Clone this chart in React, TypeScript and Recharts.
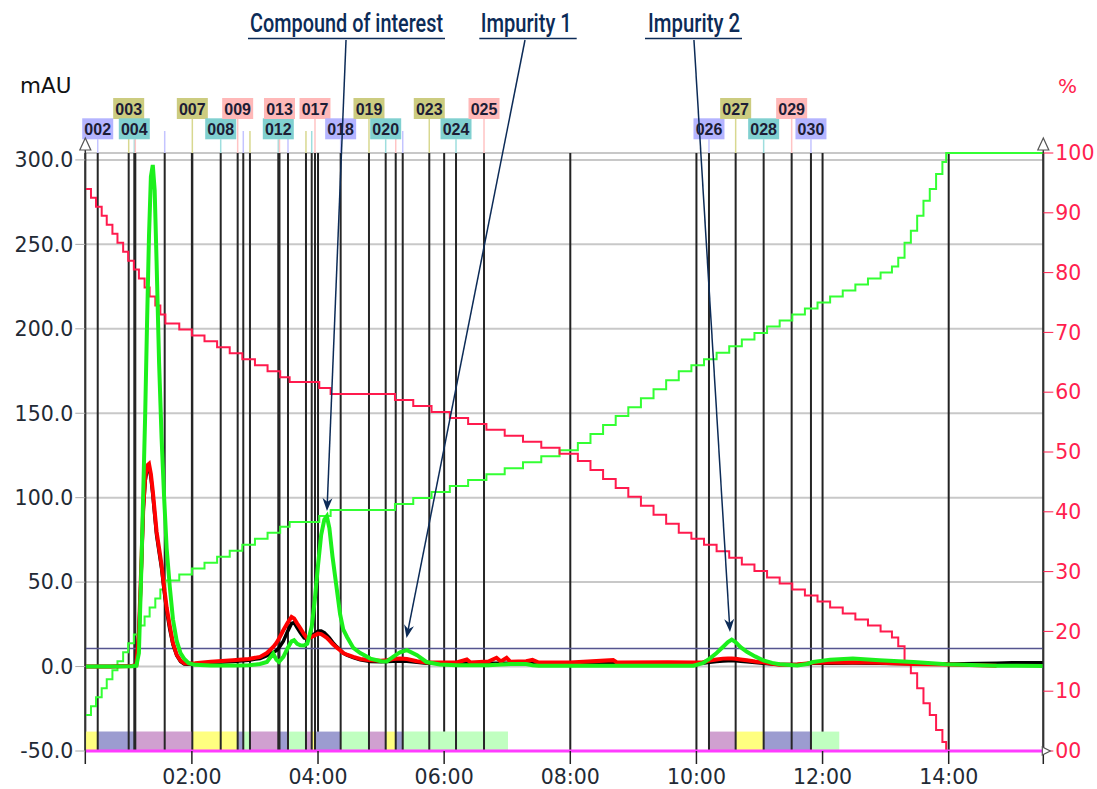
import React from 'react'
import {
  ComposedChart, Line, XAxis, YAxis, CartesianGrid,
  ReferenceLine, ReferenceArea, ReferenceDot,
} from 'recharts'

const W = 1097
const H = 789
const T_MIN = 0.31
const T_MAX = 15.5
const MAU_MAX = 304.1
const NAVY = '#0c2b57'
const PCT_RED = '#ff1f4f'

// UV traces (mAU) sampled at traceTime (min)
const traceTime = [
  0.31, 0.70, 1.05, 1.12, 1.16, 1.20, 1.23, 1.26, 1.29, 1.32,
  1.35, 1.38, 1.41, 1.44, 1.48, 1.52, 1.56, 1.60, 1.65, 1.70,
  1.76, 1.82, 1.88, 1.95, 2.05, 2.30, 2.65, 2.90, 3.08, 3.19,
  3.29, 3.34, 3.38, 3.45, 3.52, 3.58, 3.62, 3.67, 3.72, 3.78,
  3.83, 3.90, 3.95, 4.00, 4.05, 4.10, 4.14, 4.18, 4.23, 4.29,
  4.35, 4.40, 4.46, 4.56, 4.67, 4.83, 5.00, 5.09, 5.19, 5.30,
  5.41, 5.57, 5.72, 5.93, 6.20, 6.36, 6.42, 6.70, 6.83, 6.90,
  6.99, 7.05, 7.30, 7.40, 7.50, 8.00, 8.68, 8.74, 9.55, 9.95,
  10.10, 10.21, 10.32, 10.42, 10.50, 10.56, 10.62, 10.70, 10.80, 10.93,
  11.06, 11.20, 11.32, 11.60, 11.75, 11.85, 12.12, 12.48, 12.90, 13.44,
  13.96, 14.50, 14.76, 15.00, 15.50,
]
const uvGreen = [
  0, 0, 0.2, 0.5, 8, 60, 105, 150, 205, 255,
  290, 297, 282, 240, 180, 135, 100, 70, 47, 28,
  15, 8, 4.5, 2, 1, 0.6, 0.6, 0.8, 1.5, 2.7,
  7.7, 4, 2.7, 5.7, 11, 15, 15.6, 13.5, 12.6, 12.5,
  13.6, 23.5, 40, 60, 78, 87, 89, 82, 65, 48,
  31, 22, 17.5, 11, 8, 4.7, 3.2, 3, 5.7, 8.5,
  9.7, 6.7, 2.7, 1.2, 0.8, 0.8, 0.8, 0.8, 1.0, 1.2,
  1.4, 1.5, 1.5, 0.8, 0.5, 0.5, 0.5, 0.5, 0.5, 0.5,
  2, 4.7, 8, 11.6, 14.5, 16, 14.5, 11.5, 8.7, 6,
  3.7, 2.2, 1.4, 0.6, 1.5, 2.7, 4.1, 4.7, 3.7, 2.7,
  1.4, 0.8, 0.5, 0.5, 0.3,
]
const uvRed = [
  0, 0, 0.3, 1, 20, 62, 95, 112, 119, 120,
  114, 104, 92, 80, 70, 60, 47, 35, 24, 14,
  7, 3.5, 2, 1.8, 2, 2.8, 3.7, 4.5, 5.7, 8,
  11.6, 14, 16.5, 21.5, 26, 29.4, 28.5, 25.5, 22.7, 19,
  16.6, 17.5, 18.5, 19.5, 19.2, 18, 17, 15.5, 13.5, 11.5,
  9.7, 8, 7, 5.7, 4.5, 3.7, 3.5, 3.8, 4.5, 4.7,
  4.5, 3.2, 2.4, 2.4, 2.4, 4.2, 2.4, 3.0, 5.2, 3.0,
  5.2, 2.8, 3.2, 4.0, 2.4, 2.4, 3.8, 2.4, 2.6, 2.4,
  2.6, 3.5, 4.2, 4.7, 4.8, 4.8, 4.6, 4.2, 3.7, 3.0,
  2.5, 1.6, 1.1, 1.2, 1.8, 2.2, 2.4, 2.5, 2.2, 1.5,
  1.2, 0.8, 0.5, null, null,
]
const uvBlack = [
  0, 0, 0.3, 1, 19, 60, 93, 110, 117, 118,
  112, 102, 90, 78, 68, 58, 45, 33, 22, 13,
  6.5, 3, 1.5, 1.3, 1.5, 2.2, 3, 3.8, 4.8, 6.5,
  8.5, 9.5, 11, 15, 21, 25.5, 26, 23, 20, 17,
  16.5, 18, 19.5, 21, 21, 20, 18.5, 17, 14.5, 12,
  10, 8, 6.8, 5.3, 4, 3, 2.8, 3, 3.2, 3.3,
  3.2, 2.5, 2, 1.9, 1.9, 2, 1.9, 1.9, 2, 2,
  2, 2, 2, 2, 1.9, 1.9, 1.9, 1.9, 1.9, 1.9,
  2, 2.5, 3, 3.3, 3.5, 3.5, 3.4, 3.2, 2.8, 2.4,
  2, 1.5, 1.2, 1.2, 1.6, 2, 2, 2.1, 2, 1.6,
  1.5, 1.8, 2, 2.2, 2.2,
]

// solvent gradient (%), step changes at gradTime
const gradTime = [
  0.31, 0.40, 0.48, 0.57, 0.65, 0.74, 0.82, 0.91, 0.99, 1.08,
  1.16, 1.25, 1.33, 1.42, 1.50, 1.58, 1.80, 2.00, 2.20, 2.40,
  2.60, 2.80, 3.00, 3.20, 3.40, 3.55, 4.02, 4.20, 5.22, 5.51,
  5.80, 6.09, 6.38, 6.67, 6.96, 7.25, 7.54, 7.83, 8.12, 8.32,
  8.52, 8.72, 8.92, 9.12, 9.32, 9.52, 9.72, 9.92, 10.12, 10.32,
  10.52, 10.72, 10.92, 11.12, 11.32, 11.52, 11.72, 11.92, 12.12, 12.32,
  12.52, 12.72, 12.92, 13.10, 13.20, 13.30, 13.40, 13.50, 13.60, 13.70,
  13.80, 13.90, 13.96, 15.50,
]
const solventB = [
  6, 7.5, 9, 10.5, 12, 13.5, 15, 16.5, 18, 19.5,
  21, 22.5, 24, 25.5, 27, 28.5, 29.5, 30.5, 31.5, 32.5,
  33.5, 34.5, 35.5, 36.5, 37.5, 38.3, 39.3, 40.3, 41.3, 42.3,
  43.3, 44.3, 45.3, 46.3, 47.3, 48.3, 49.3, 50.3, 51.5, 53,
  54.5, 56, 57.5, 59, 60.5, 62, 63.5, 64.5, 65.5, 66.6,
  67.7, 68.8, 69.9, 71, 72, 73, 74, 75, 76, 77,
  78, 79, 80, 81, 82.5, 85, 87, 89.5, 92, 94,
  96.5, 98.5, 100, 100,
]
const solventA = [
  94, 92.5, 91, 89.5, 88, 86.5, 85, 83.5, 82, 80.5,
  79, 77.5, 76, 74.5, 73, 71.5, 70.5, 69.5, 68.5, 67.5,
  66.5, 65.5, 64.5, 63.5, 62.5, 61.7, 60.7, 59.7, 58.7, 57.7,
  56.7, 55.7, 54.7, 53.7, 52.7, 51.7, 50.7, 49.7, 48.5, 47,
  45.5, 44, 42.5, 41, 39.5, 38, 36.5, 35.5, 34.5, 33.4,
  32.3, 31.2, 30.1, 29, 28, 27, 26, 25, 24, 23,
  22, 21, 20, 19, 17.5, 15, 13, 10.5, 8, 6,
  3.5, 1.5, 0, null,
]

// collected fractions: number and start time (min)
const fractionNo = [
  2, 3, 4, 5, 6, 7, 8, 9, 10, 11, 12, 13, 14, 15, 16, 17, 18, 19, 20,
  21, 22, 23, 24, 25, 26, 27, 28, 29, 30,
]
const fractionStart = [
  0.507, 0.998, 1.087, 1.103, 1.569, 2.007, 2.457, 2.726, 2.815, 2.921,
  3.370, 3.389, 3.524, 3.809, 3.900, 3.952, 4.359, 4.808, 5.073, 5.232,
  5.343, 5.764, 6.188, 6.632, 10.199, 10.622, 11.066, 11.510, 11.816,
]
const fractionLabelled = [2, 3, 4, 7, 8, 9, 12, 13, 17, 18, 19, 20, 23, 24, 25, 26, 27, 28, 29, 30]

// rack position bands along the bottom
const bandStart = [
  0.31, 0.507, 1.087, 2.007, 2.726, 2.815, 2.921, 3.389, 3.524, 3.809, 3.900,
  3.952, 4.359, 4.808, 5.073, 5.232, 5.343, 10.199, 10.622, 11.066, 11.816,
]
const bandEnd = [
  0.507, 1.087, 2.007, 2.726, 2.815, 2.921, 3.389, 3.524, 3.809, 3.900, 3.952,
  4.359, 4.808, 5.073, 5.232, 5.343, 7.012, 10.622, 11.066, 11.816, 12.265,
]
const bandKind = [
  'y', 'b', 'm', 'y', 'b', 'g', 'm', 'b', 'g', 'm', 'y',
  'b', 'g', 'm', 'y', 'b', 'g', 'm', 'y', 'b', 'g',
]

const timeTicks = [T_MIN, 2, 4, 6, 8, 10, 12, 14, T_MAX]
const mauTicks = [-50, 0, 50, 100, 150, 200, 250, 300]
const pctTicks = [0, 10, 20, 30, 40, 50, 60, 70, 80, 90, 100]
const threshold = 10.7

const calloutNames = ['Compound of interest', 'Impurity 1', 'Impurity 2']
const calloutPeak = [{ x: 4.142, y: 92.1 }, { x: 5.403, y: 16.9 }, { x: 10.532, y: 20.5 }]
const calloutFoot = [{ x: 4.444, y: 371 }, { x: 7.282, y: 371 }, { x: 9.961, y: 371 }]
// label layout in page pixels: text left, text width, underline from/to
const calloutBox = [[250, 193, 248, 445], [480.7, 91, 479.3, 576.7], [648, 92, 645, 742]]

const traceData = traceTime.map((t, i) => ({ t, k: uvBlack[i], r: uvRed[i], g: uvGreen[i] }))
const gradData = gradTime.map((t, i) => ({ t, a: solventA[i], b: solventB[i] }))

const BAND_FILL: Record<string, string> = { y: '#ffff80', b: '#9c9cd0', m: '#d0a0d0', g: '#c0ffc0' }
const TAG_FILL = ['#80d0d0', '#ffb8b8', '#b4b4ff', '#cccc80']
const TAG_TICK = ['#9edede', '#ffc4c4', '#c4c4ff', '#d8d890']
const AXIS_FONT = 'DejaVu Sans'

const fmtTime = (v: number) =>
  v < 1 || v > 15 ? '' : `${String(Math.round(v)).padStart(2, '0')}:00`

const boxTopFor = (n: number, top: number) => (n % 2 === 1 ? top - 55 : top - 34.7)

// pass 1: black fraction line + coloured stub above the plot
function fractionLine(n: number) {
  return (p: any) => {
    const x = p.x1
    const top = Math.min(p.y1, p.y2)
    const bot = Math.max(p.y1, p.y2)
    const shown = fractionLabelled.includes(n)
    const tickTop = shown ? boxTopFor(n, top) + 21 : top - 22
    return (
      <g>
        <line x1={x} y1={tickTop} x2={x} y2={top} stroke={TAG_TICK[n % 4]} strokeWidth={1.5} />
        <line x1={x} y1={top} x2={x} y2={bot} stroke="#262626" strokeWidth={2} />
      </g>
    )
  }
}

// pass 2: number tag
function fractionTag(n: number) {
  return (p: any) => {
    if (!fractionLabelled.includes(n)) return <g />
    const x = p.x1
    const top = Math.min(p.y1, p.y2)
    const boxTop = boxTopFor(n, top)
    return (
      <g>
        <rect x={x - 15.5} y={boxTop} width={31} height={21} fill={TAG_FILL[n % 4]} />
        <text x={x} y={boxTop + 17} textAnchor="middle" fontFamily="Liberation Sans, Arial"
          fontWeight="bold" fontSize={16} fill="#1d1d35">
          {String(n).padStart(3, '0')}
        </text>
      </g>
    )
  }
}

const arrowShape = (p: any) => {
  const { x1, y1, x2, y2 } = p
  const ang = Math.atan2(y2 - y1, x2 - x1)
  const cs = Math.cos(ang), sn = Math.sin(ang)
  const bx = x2 - 13 * cs, by = y2 - 13 * sn
  const nx = -sn * 5, ny = cs * 5
  return (
    <g>
      <line x1={x1} y1={y1} x2={bx + 4 * cs} y2={by + 4 * sn} stroke={NAVY} strokeWidth={1.5} />
      <polygon
        points={`${x2},${y2} ${bx + nx},${by + ny} ${bx + 4 * cs},${by + 4 * sn} ${bx - nx},${by - ny}`}
        fill={NAVY}
      />
    </g>
  )
}

const upTriangle = (p: any) => (
  <g>
    <line x1={p.cx} y1={p.cy - 3} x2={p.cx} y2={p.cy} stroke="#333" strokeWidth={1.5} />
    <polygon points={`${p.cx},${p.cy - 15} ${p.cx - 5.5},${p.cy - 3} ${p.cx + 5.5},${p.cy - 3}`}
      fill="#fff" stroke="#555" strokeWidth={1.2} />
  </g>
)
const rightTriangle = (p: any) => (
  <polygon points={`${p.cx - 1},${p.cy - 4} ${p.cx - 1},${p.cy + 4} ${p.cx + 7},${p.cy}`}
    fill="#fff" stroke="#555" strokeWidth={1.2} />
)

export default function App() {
  const sx = 0.8
  return (
    <div style={{ position: 'absolute', left: 0, top: 0, width: W, height: H, background: '#fff' }}>
      <ComposedChart width={W} height={H} data={traceData}
        margin={{ top: 153, right: 0, bottom: 0, left: 0 }}>
        <XAxis dataKey="t" type="number" domain={[T_MIN, T_MAX]} ticks={timeTicks} interval={0}
          tickFormatter={fmtTime} height={38} axisLine={false}
          tickSize={13} tickMargin={5} tickLine={{ stroke: '#222', strokeWidth: 1.5 }}
          tick={{ fontFamily: AXIS_FONT, fontSize: 20.5, fill: '#222a35' }} />
        <YAxis yAxisId="left" domain={[-50, MAU_MAX]} ticks={mauTicks} interval={0}
          width={85.3} tickSize={10} tickMargin={2}
          tickFormatter={(v: number) => v.toFixed(1)}
          axisLine={{ stroke: '#333', strokeWidth: 1.5 }} tickLine={{ stroke: '#aaa' }}
          tick={{ fontFamily: AXIS_FONT, fontSize: 20.5, fill: '#222a35' }} />
        <YAxis yAxisId="right" orientation="right" domain={[0, 100]} ticks={pctTicks} interval={0}
          width={53.7} tickSize={10} tickMargin={2}
          tickFormatter={(v: number) => (v === 0 ? '00' : String(v))}
          axisLine={{ stroke: '#333', strokeWidth: 1.5 }} tickLine={{ stroke: PCT_RED }}
          tick={{ fontFamily: AXIS_FONT, fontSize: 20.5, fill: PCT_RED }} />

        <CartesianGrid yAxisId="left" vertical={false} stroke="#c8c8c8" strokeWidth={2} />
        <CartesianGrid yAxisId="left" horizontal={false} stroke="#222" strokeWidth={2} />

        {bandStart.map((s, i) => (
          <ReferenceArea key={`band-${i}`} yAxisId="left" x1={s} x2={bandEnd[i]} y1={-50} y2={-38.5}
            fill={BAND_FILL[bandKind[i]]} fillOpacity={1} stroke="none" ifOverflow="visible" />
        ))}

        {fractionNo.map((n, i) => (
          <ReferenceLine key={`frac-${n}`} yAxisId="left" x={fractionStart[i]}
            shape={fractionLine(n)} />
        ))}
        {fractionNo.map((n, i) => (
          <ReferenceLine key={`tag-${n}`} yAxisId="left" x={fractionStart[i]}
            shape={fractionTag(n)} />
        ))}

        <ReferenceLine yAxisId="left" y={threshold} stroke="#55558f" strokeWidth={1.5} />

        <Line yAxisId="right" data={gradData} dataKey="b" type="stepAfter" stroke="#33ff33"
          strokeWidth={2} dot={false} isAnimationActive={false} />
        <Line yAxisId="right" data={gradData} dataKey="a" type="stepAfter" stroke="#ff1a4d"
          strokeWidth={2} dot={false} isAnimationActive={false} />
        <Line yAxisId="left" dataKey="k" type="linear" stroke="#000" strokeWidth={3.5}
          dot={false} isAnimationActive={false} />
        <Line yAxisId="left" dataKey="r" type="linear" stroke="#ff0000" strokeWidth={4}
          dot={false} isAnimationActive={false} />
        <Line yAxisId="left" dataKey="g" type="linear" stroke="#1cf01c" strokeWidth={4}
          dot={false} isAnimationActive={false} />

        <ReferenceLine yAxisId="left" y={-50} stroke="#ff3cff" strokeWidth={3} />

        {calloutPeak.map((pk, i) => (
          <ReferenceLine key={`arrow-${i}`} yAxisId="left" ifOverflow="visible"
            segment={[calloutFoot[i], pk]} shape={arrowShape} />
        ))}

        <ReferenceDot yAxisId="left" x={T_MIN} y={MAU_MAX} ifOverflow="visible" shape={upTriangle} />
        <ReferenceDot yAxisId="right" x={T_MAX} y={100} ifOverflow="visible" shape={upTriangle} />
        <ReferenceDot yAxisId="right" x={T_MAX} y={0} ifOverflow="visible" shape={rightTriangle} />
      </ComposedChart>

      <svg width={W} height={H} style={{ position: 'absolute', left: 0, top: 0, pointerEvents: 'none' }}>
        <text x={20} y={93} fontFamily={AXIS_FONT} fontSize={21.5} fill="#111">mAU</text>
        <text x={1058} y={93} fontFamily={AXIS_FONT} fontSize={20} fill={PCT_RED}>%</text>
        {calloutNames.map((name, i) => {
          const [tx, tw, u1, u2] = calloutBox[i]
          return (
            <g key={name}>
              <text transform={`translate(${tx},31.5) scale(${sx},1)`} x={0} y={0}
                textLength={tw / sx} lengthAdjust="spacingAndGlyphs"
                fontFamily="Roboto" fontWeight={500} fontSize={25} fill={NAVY}>{name}</text>
              <line x1={u1} y1={38.5} x2={u2} y2={38.5} stroke={NAVY} strokeWidth={1.5} />
            </g>
          )
        })}
      </svg>
    </div>
  )
}
